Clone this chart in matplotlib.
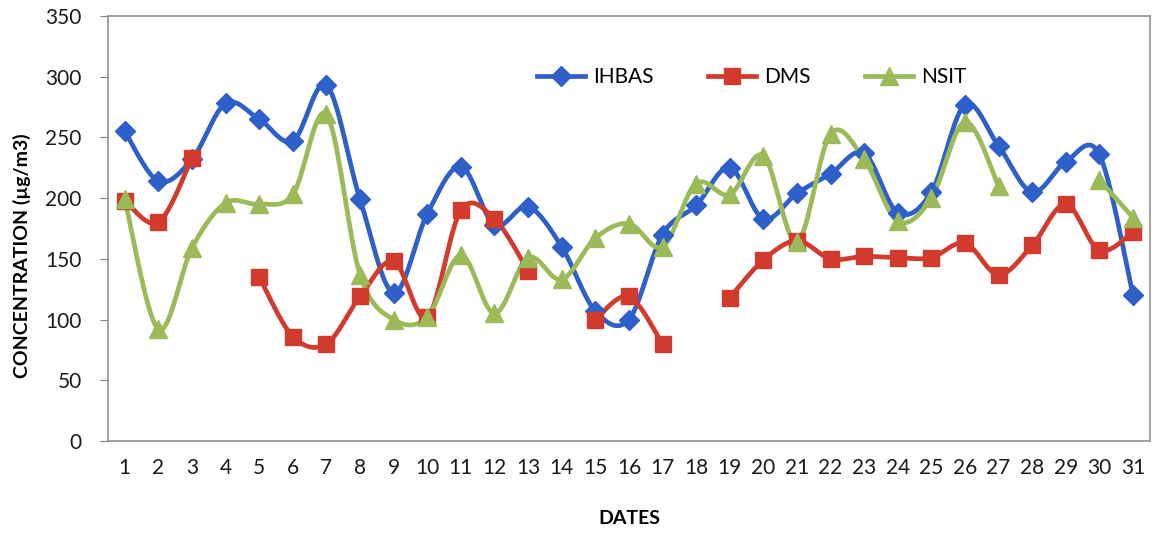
import numpy as np
import matplotlib
matplotlib.use("Agg")
import matplotlib.pyplot as plt
from matplotlib.lines import Line2D

plt.rcParams['font.family'] = ['Lato', 'DejaVu Sans']

dates = list(range(1, 32))
ihbas = [255, 214, 232, 278, 265, 247, 293, 199, 122, 187,
         226, 178, 193, 160, 107, 100, 170, 194, 225, 183,
         204, 220, 237, 188, 205, 277, 243, 205, 230, 236, 120]
dms = [198, 180, 233, None, 135, 86, 80, 119, 148, 102,
       190, 183, 140, None, 100, 119, 80, None, 118, 149,
       165, 150, 152, 151, 151, 163, 137, 161, 195, 157, 172]
nsit = [199, 92, 159, 196, 195, 203, 269, 137, 100, 102,
        153, 105, 151, 133, 167, 179, 160, 212, 203, 235,
        164, 253, 232, 181, 200, 263, 210, None, None, 215, 184]

colors = {'IHBAS': '#2f5fc8', 'DMS': '#d23a2e', 'NSIT': '#9bbb59'}
markers = {'IHBAS': ('D', 10), 'DMS': ('s', 12), 'NSIT': ('^', 12.5)}


def smooth(xs, ys, n=20):
    # Excel style smoothed line: bezier through points (catmull-rom tangents)
    xs = np.asarray(xs, float)
    ys = np.asarray(ys, float)
    if len(xs) < 3:
        return xs, ys
    px, py = [], []
    for i in range(len(xs) - 1):
        x0, y0 = (xs[i - 1], ys[i - 1]) if i > 0 else (xs[i], ys[i])
        x3, y3 = (xs[i + 2], ys[i + 2]) if i + 2 < len(xs) else (xs[i + 1], ys[i + 1])
        x1, y1, x2, y2 = xs[i], ys[i], xs[i + 1], ys[i + 1]
        c1x, c1y = x1 + (x2 - x0) / 6, y1 + (y2 - y0) / 6
        c2x, c2y = x2 - (x3 - x1) / 6, y2 - (y3 - y1) / 6
        t = np.linspace(0, 1, n)
        bx = (1-t)**3*x1 + 3*(1-t)**2*t*c1x + 3*(1-t)*t**2*c2x + t**3*x2
        by = (1-t)**3*y1 + 3*(1-t)**2*t*c1y + 3*(1-t)*t**2*c2y + t**3*y2
        px.extend(bx)
        py.extend(by)
    return np.array(px), np.array(py)


def segments(xs, ys):
    seg = []
    for x, y in zip(xs, ys):
        if y is None:
            if seg:
                yield seg
            seg = []
        else:
            seg.append((x, y))
    if seg:
        yield seg


fig = plt.figure(figsize=(11.55, 5.33), dpi=100)
ax = fig.add_axes([0.0935, 0.1726, 0.902, 0.7974])

series = [('IHBAS', ihbas), ('DMS', dms), ('NSIT', nsit)]
handles = []
for name, vals in series:
    c = colors[name]
    m, ms = markers[name]
    for seg in segments(dates, vals):
        sx, sy = zip(*seg)
        lx, ly = smooth(sx, sy)
        ax.plot(lx, ly, color=c, lw=3.4, solid_capstyle='round', zorder=2)
        ax.plot(sx, sy, ls='none', marker=m, ms=ms, color=c, zorder=3)
    handles.append(Line2D([], [], color=c, lw=3.4, marker=m, ms=ms, label=name))

ax.set_xlim(0.5, 31.5)
ax.set_ylim(0, 350)
ax.set_xticks(dates)
ax.set_yticks(range(0, 351, 50))
ax.tick_params(axis='x', length=0, pad=12, labelsize=15, labelcolor='#1a1a1a')
ax.tick_params(axis='y', direction='out', length=6, pad=13, labelsize=15,
               color='#808080', labelcolor='#1a1a1a')
for s in ax.spines.values():
    s.set_color('#909090')
    s.set_linewidth(1.2)

ax.set_xlabel('DATES', fontsize=14, fontweight='bold')
ax.xaxis.set_label_coords(0.5, -0.162)
ax.set_ylabel('CONCENTRATION (µg/m3)', fontsize=14, fontweight='bold')
ax.yaxis.set_label_coords(-0.074, 0.435)

ax.legend(handles=handles, loc='center', bbox_to_anchor=(0.618, 0.856), ncol=3,
          frameon=False, fontsize=15, handlelength=2.3, handletextpad=0.4,
          columnspacing=2.6)

fig.savefig('out.png', dpi=100)
